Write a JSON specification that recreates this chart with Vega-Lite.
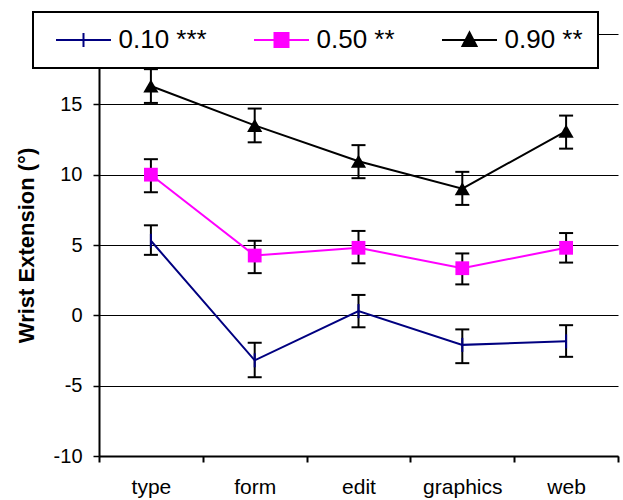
{
  "$schema": "https://vega.github.io/schema/vega-lite/v6.json",
  "width": 519,
  "height": 422,
  "autosize": "none",
  "padding": {"left": 99, "top": 34, "right": 5, "bottom": 44},
  "background": "white",
  "config": {
    "view": {"stroke": null},
    "font": "Liberation Sans"
  },
  "data": {
    "values": [
      {"task": "type", "q": "0.10 ***", "y": 5.3, "lo": 4.3, "hi": 6.4},
      {"task": "form", "q": "0.10 ***", "y": -3.2, "lo": -4.4, "hi": -1.95},
      {"task": "edit", "q": "0.10 ***", "y": 0.3, "lo": -0.85, "hi": 1.45},
      {"task": "graphics", "q": "0.10 ***", "y": -2.1, "lo": -3.4, "hi": -1.0},
      {"task": "web", "q": "0.10 ***", "y": -1.85, "lo": -2.95, "hi": -0.7},
      {"task": "type", "q": "0.50 **", "y": 10.0, "lo": 8.75, "hi": 11.1},
      {"task": "form", "q": "0.50 **", "y": 4.25, "lo": 3.0, "hi": 5.3},
      {"task": "edit", "q": "0.50 **", "y": 4.8, "lo": 3.7, "hi": 6.0},
      {"task": "graphics", "q": "0.50 **", "y": 3.35, "lo": 2.2, "hi": 4.4},
      {"task": "web", "q": "0.50 **", "y": 4.8, "lo": 3.75, "hi": 5.85},
      {"task": "type", "q": "0.90 **", "y": 16.3, "lo": 15.1, "hi": 17.5},
      {"task": "form", "q": "0.90 **", "y": 13.5, "lo": 12.3, "hi": 14.7},
      {"task": "edit", "q": "0.90 **", "y": 10.95, "lo": 9.75, "hi": 12.1},
      {"task": "graphics", "q": "0.90 **", "y": 9.0, "lo": 7.85, "hi": 10.2},
      {"task": "web", "q": "0.90 **", "y": 13.1, "lo": 11.85, "hi": 14.2}
    ]
  },
  "encoding": {
    "x": {
      "field": "task",
      "type": "nominal",
      "sort": ["type", "form", "edit", "graphics", "web"],
      "scale": {"type": "band", "paddingInner": 0, "paddingOuter": 0},
      "axis": {
        "title": null,
        "labelAngle": 0,
        "tickBand": "extent",
        "domainColor": "black",
        "domainWidth": 2,
        "tickColor": "black",
        "tickWidth": 2,
        "tickSize": 6,
        "labelFontSize": 21,
        "labelColor": "black",
        "labelPadding": 14,
        "grid": false
      }
    }
  },
  "layer": [
    {
      "mark": {"type": "rule", "color": "black", "strokeWidth": 2},
      "encoding": {
        "y": {
          "field": "lo",
          "type": "quantitative",
          "scale": {"domain": [-10, 20], "nice": false, "zero": false},
          "axis": {
            "title": "Wrist Extension (°)",
            "titleFontSize": 22,
            "titleFontWeight": "bold",
            "titleColor": "black",
            "titlePadding": 15,
            "values": [-10, -5, 0, 5, 10, 15, 20],
            "labelExpr": "'' + datum.value",
            "labelFontSize": 20,
            "labelColor": "black",
            "labelPadding": 11,
            "tickSize": 6,
            "tickColor": "black",
            "tickWidth": 1.5,
            "domainColor": "black",
            "domainWidth": 2,
            "grid": true,
            "gridColor": "black",
            "gridWidth": 1,
            "gridOpacity": 1
          }
        },
        "y2": {"field": "hi"}
      }
    },
    {
      "mark": {"type": "tick", "color": "black", "size": 14, "thickness": 2, "opacity": 1},
      "encoding": {"y": {"field": "lo", "type": "quantitative"}}
    },
    {
      "mark": {"type": "tick", "color": "black", "size": 14, "thickness": 2, "opacity": 1},
      "encoding": {"y": {"field": "hi", "type": "quantitative"}}
    },
    {
      "mark": {"type": "line", "strokeWidth": 2},
      "encoding": {
        "y": {"field": "y", "type": "quantitative"},
        "color": {
          "field": "q",
          "type": "nominal",
          "scale": {"domain": ["0.10 ***", "0.50 **", "0.90 **"], "range": ["#000080", "#FF00FF", "#000000"]},
          "legend": {
            "orient": "none",
            "legendX": -66,
            "legendY": -22,
            "direction": "horizontal",
            "title": " ",
            "titleOrient": "left",
            "titleFontSize": 4,
            "titlePadding": 8,
            "padding": 15,
            "fillColor": "white",
            "strokeColor": "black",
            "labelFontSize": 26,
            "labelColor": "black",
            "labelLimit": 0,
            "labelOffset": 22,
            "symbolOffset": 14.5,
            "symbolSize": 100,
            "symbolStrokeWidth": 2,
            "columnPadding": 43,
            "encode": {
              "legend": {"update": {"strokeWidth": {"value": 2}}},
              "symbols": {
                "update": {
                  "shape": {"signal": "datum.value == '0.10 ***' ? 'M-5.5,0H5.5M0,-1.4V1.4' : datum.value == '0.50 **' ? 'M-5.5,0H5.5M-1.4,-1.4H1.4V1.4H-1.4Z' : 'M-5.5,0H5.5M0,-1.5L1.4,1.2L-1.4,1.2Z'"},
                  "fill": {"signal": "scale('color', datum.value)"},
                  "stroke": {"signal": "scale('color', datum.value)"},
                  "strokeWidth": {"value": 2},
                  "opacity": {"value": 1}
                }
              }
            }
          }
        }
      }
    },
    {
      "transform": [{"filter": "datum.q == '0.10 ***'"}],
      "mark": {"type": "point", "shape": "M0,-1V1", "filled": false, "opacity": 1, "size": 196, "strokeWidth": 2, "stroke": "#000080"},
      "encoding": {"y": {"field": "y", "type": "quantitative"}}
    },
    {
      "transform": [{"filter": "datum.q == '0.50 **'"}],
      "mark": {"type": "point", "shape": "square", "filled": true, "opacity": 1, "size": 190, "fill": "#FF00FF"},
      "encoding": {"y": {"field": "y", "type": "quantitative"}}
    },
    {
      "transform": [{"filter": "datum.q == '0.90 **'"}],
      "mark": {"type": "point", "shape": "triangle-up", "filled": true, "opacity": 1, "size": 230, "fill": "#000000"},
      "encoding": {"y": {"field": "y", "type": "quantitative"}}
    }
  ]
}
